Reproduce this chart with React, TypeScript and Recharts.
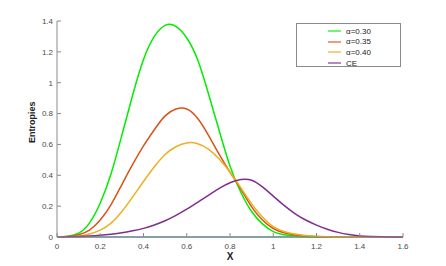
import React from "react";
import { LineChart, Line, XAxis, YAxis, ReferenceLine } from "recharts";

const xValues = [
  0, 0.05, 0.1, 0.15, 0.2, 0.25, 0.3, 0.35, 0.4, 0.45, 0.5, 0.55, 0.6, 0.65, 0.7, 0.75, 0.8,
  0.85, 0.9, 0.95, 1.0, 1.05, 1.1, 1.15, 1.2, 1.25, 1.3, 1.35, 1.4, 1.45, 1.5, 1.55, 1.6,
];
const alpha030 = [
  0, 0.005, 0.025, 0.09, 0.22, 0.41, 0.66, 0.92, 1.15, 1.3, 1.372, 1.365, 1.29, 1.15, 0.93, 0.69,
  0.46, 0.29, 0.165, 0.085, 0.035, 0.015, 0.006, 0.002, 0, 0, 0, 0, 0, 0, 0, 0, 0,
];
const alpha035 = [
  0, 0.003, 0.015, 0.045, 0.11, 0.21, 0.34, 0.47, 0.59, 0.695, 0.785, 0.83, 0.83, 0.77, 0.66, 0.535,
  0.42, 0.31, 0.195, 0.11, 0.055, 0.028, 0.013, 0.006, 0.002, 0, 0, 0, 0, 0, 0, 0, 0,
];
const alpha040 = [
  0, 0.001, 0.006, 0.02, 0.045, 0.09, 0.165, 0.26, 0.36, 0.455, 0.535, 0.585, 0.61, 0.605, 0.57,
  0.505, 0.42, 0.32, 0.215, 0.13, 0.068, 0.036, 0.019, 0.01, 0.005, 0.002, 0, 0, 0, 0, 0, 0, 0,
];
const ce = [
  0, 0.001, 0.003, 0.006, 0.011, 0.018, 0.027, 0.04, 0.056, 0.078, 0.105, 0.14, 0.18, 0.225, 0.27,
  0.315, 0.352, 0.372, 0.368, 0.325, 0.265, 0.205, 0.152, 0.11, 0.077, 0.05, 0.03, 0.016, 0.007,
  0.003, 0.001, 0, 0,
];

const xTicks = [0, 0.2, 0.4, 0.6, 0.8, 1, 1.2, 1.4, 1.6];
const yTicks = [0, 0.2, 0.4, 0.6, 0.8, 1, 1.2, 1.4];

const series = [
  { key: "a30", name: "α=0.30", color: "#00ee00", values: alpha030 },
  { key: "a35", name: "α=0.35", color: "#d95319", values: alpha035 },
  { key: "a40", name: "α=0.40", color: "#edb120", values: alpha040 },
  { key: "ce", name: "CE", color: "#7e2f8e", values: ce },
];

const data = xValues.map((x, i) => {
  const row: Record<string, number> = { x };
  series.forEach((s) => (row[s.key] = s.values[i]));
  return row;
});

const FONT = "'Liberation Sans', Arial, Helvetica, sans-serif";
const AXIS = "#8a8a8a";
const TICK_TEXT = { fontSize: 8, fill: "#4a4a4a", fontFamily: FONT };

function LegendBox() {
  return (
    <div
      style={{
        position: "absolute",
        left: 296,
        top: 23,
        width: 105,
        height: 44,
        border: `1px solid ${AXIS}`,
        background: "#fff",
        boxSizing: "border-box",
        paddingTop: 2,
        fontFamily: FONT,
        fontSize: 8,
        color: "#222",
      }}
    >
      {series.map((s) => (
        <div key={s.key} style={{ display: "flex", alignItems: "center", height: 10.6 }}>
          <svg width={13} height={4} style={{ marginLeft: 31, display: "block" }}>
            <line x1={0} y1={2} x2={13} y2={2} stroke={s.color} strokeWidth={1.5} opacity={0.75} />
          </svg>
          <span style={{ marginLeft: 5 }}>{s.name}</span>
        </div>
      ))}
    </div>
  );
}

export default function App() {
  return (
    <div style={{ position: "absolute", left: 0, top: 0, width: 446, height: 266, background: "#fff" }}>
      <LineChart width={446} height={266} data={data} margin={{ top: 21, right: 43, bottom: 0, left: 0 }}>
        <XAxis
          dataKey="x"
          type="number"
          domain={[0, 1.6]}
          ticks={xTicks}
          height={29}
          tickSize={-4}
          tickMargin={10}
          stroke={AXIS}
          tick={TICK_TEXT}
          label={{ value: "X", position: "insideBottom", offset: 6, fontSize: 10, fontWeight: "bold", fill: "#222", fontFamily: FONT }}
        />
        <XAxis
          xAxisId="top"
          dataKey="x"
          type="number"
          orientation="top"
          domain={[0, 1.6]}
          ticks={xTicks}
          height={0}
          tickSize={-4}
          stroke={AXIS}
          tickFormatter={() => ""}
        />
        <YAxis
          type="number"
          domain={[0, 1.4]}
          ticks={yTicks}
          width={57}
          tickSize={-4}
          tickMargin={8}
          stroke={AXIS}
          tick={TICK_TEXT}
          label={{ value: "Entropies", angle: -90, position: "insideLeft", offset: 32, dy: 14, fontSize: 9, fontWeight: "bold", fill: "#222", fontFamily: FONT }}
        />
        <YAxis
          yAxisId="right"
          orientation="right"
          type="number"
          domain={[0, 1.4]}
          ticks={yTicks}
          width={0}
          tickSize={-4}
          stroke={AXIS}
          tickFormatter={() => ""}
        />
        <ReferenceLine y={0} stroke="#5b9e9e" strokeWidth={1.5} />
        {series.map((s) => (
          <Line
            key={s.key}
            dataKey={s.key}
            name={s.name}
            type="natural"
            stroke={s.color}
            strokeWidth={1.5}
            dot={false}
            activeDot={false}
            isAnimationActive={false}
          />
        ))}
      </LineChart>
      <LegendBox />
    </div>
  );
}
